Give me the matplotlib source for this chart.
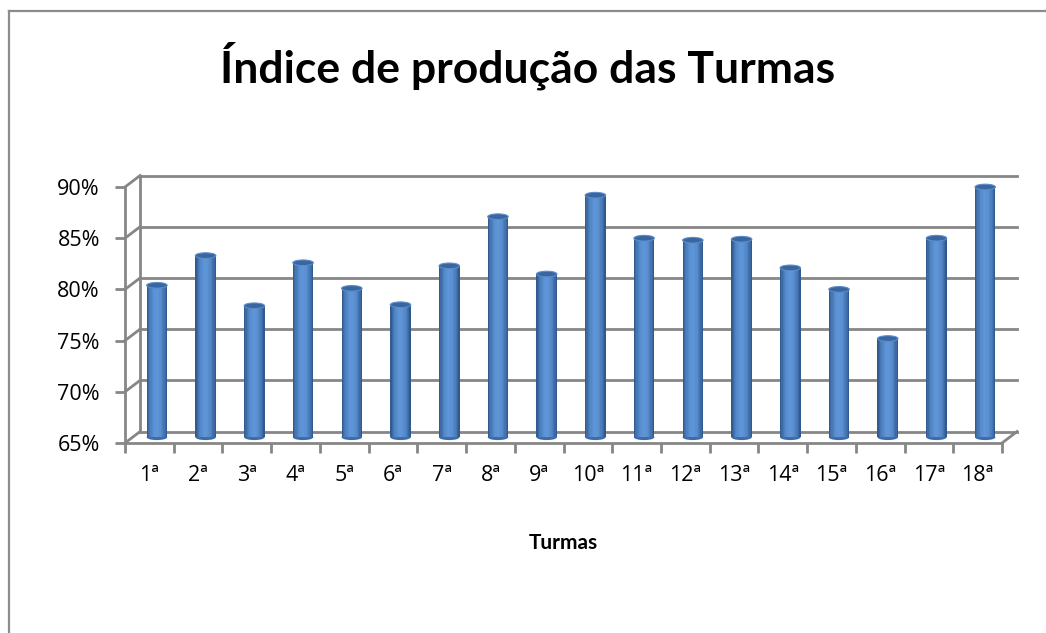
import matplotlib.pyplot as plt
import matplotlib.colors as mcolors
from matplotlib.patches import Ellipse
from matplotlib.lines import Line2D
import numpy as np

plt.rcParams['font.family'] = ['Lato', 'DejaVu Sans']

TURMAS = ['1ª', '2ª', '3ª', '4ª', '5ª', '6ª', '7ª', '8ª', '9ª', '10ª',
          '11ª', '12ª', '13ª', '14ª', '15ª', '16ª', '17ª', '18ª']
INDICE = [80.4, 83.3, 78.4, 82.6, 80.1, 78.5, 82.3, 87.1, 81.5, 89.2,
          85.0, 84.8, 84.9, 82.1, 80.0, 75.2, 85.0, 90.0]
Y_TICKS = [65, 70, 75, 80, 85, 90]

W, H = 1046, 633
GRID = '#868686'
DARK = np.array(mcolors.to_rgb('#2b5386'))
LIGHT = np.array(mcolors.to_rgb('#5e95d8'))
TICK_FONT = ['Open Sans', 'DejaVu Sans']

# depth offset of the back wall, in data units
DX = 0.31
DY = 1.12
BAR_W = 0.42
CAP_H = 0.55
N_SLICES = 16


def slice_color(t):
    # t in 0..1 across the cylinder, highlight a bit left of centre
    k = np.clip(np.sin(np.pi * t) ** 0.8 - 0.15 * (t - 0.4) ** 2, 0, 1)
    return tuple(DARK + (LIGHT - DARK) * k)


def draw_walls(ax):
    y0, y1 = Y_TICKS[0], Y_TICKS[-1]
    n = len(TURMAS)
    for v in Y_TICKS:
        ax.add_line(Line2D([DX, n + DX], [v + DY, v + DY], color=GRID,
                           lw=2, clip_on=False, zorder=1))
        ax.add_line(Line2D([0, DX], [v, v + DY], color=GRID,
                           lw=2, clip_on=False, zorder=1))
    ax.add_line(Line2D([DX, DX], [y0 + DY, y1 + DY], color=GRID,
                       lw=2, clip_on=False, zorder=1))
    ax.add_line(Line2D([n, n + DX], [y0, y0 + DY], color=GRID,
                       lw=2, clip_on=False, zorder=1))


def draw_cylinders(ax):
    base = Y_TICKS[0] + DY / 2
    centers = np.arange(len(TURMAS)) + 0.5 + DX / 2
    heights = np.array(INDICE) - base
    sw = BAR_W / N_SLICES
    for c, v in zip(centers, INDICE):
        ax.add_patch(Ellipse((c, base), BAR_W, CAP_H, facecolor='#3f6ca6',
                             edgecolor='none', zorder=3))
    for i in range(N_SLICES):
        t = (i + 0.5) / N_SLICES
        xs = centers - BAR_W / 2 + (i + 0.5) * sw
        ax.bar(xs, heights, width=sw * 1.05, bottom=base,
               color=slice_color(t), edgecolor='none', zorder=4)
    for c, v in zip(centers, INDICE):
        ax.add_patch(Ellipse((c, v), BAR_W, CAP_H, facecolor='#3a66a0',
                             edgecolor='#5a8ccc', lw=0.8, zorder=5,
                             clip_on=False))


def main():
    fig = plt.figure(figsize=(W / 100, H / 100), dpi=100)
    ax = fig.add_axes([125 / W, 190 / H, 877 / W, 256 / H])
    ax.set_xlim(0, len(TURMAS))
    ax.set_ylim(Y_TICKS[0], Y_TICKS[-1])

    draw_walls(ax)
    draw_cylinders(ax)

    for s in ['top', 'right']:
        ax.spines[s].set_visible(False)
    for s in ['left', 'bottom']:
        ax.spines[s].set_color(GRID)
        ax.spines[s].set_linewidth(2)
        ax.spines[s].set_zorder(6)

    ax.set_yticks(Y_TICKS)
    ax.set_yticklabels(['%d%%' % v for v in Y_TICKS])
    ax.tick_params(axis='y', length=7, width=2, color=GRID, pad=11,
                   labelsize=15.5)
    ax.set_xticks(np.arange(len(TURMAS)) + 0.5)
    ax.set_xticklabels(TURMAS)
    ax.set_xticks(np.arange(len(TURMAS) + 1), minor=True)
    ax.tick_params(axis='x', which='major', length=0, pad=16, labelsize=15.5)
    ax.tick_params(axis='x', which='minor', length=7, width=2, color=GRID)
    for lbl in ax.get_xticklabels() + ax.get_yticklabels():
        lbl.set_family(TICK_FONT)

    ax.set_xlabel('Turmas', fontsize=15, fontweight='bold', labelpad=34)
    fig.text(528 / W, 1 - 66 / H, 'Índice de produção das Turmas',
             ha='center', va='center', fontsize=32, fontweight='bold')

    # chart frame (left and top edges visible)
    fig.add_artist(Line2D([8.5 / W, 8.5 / W], [0, 1 - 10.5 / H],
                          transform=fig.transFigure, color='#8c8c8c', lw=1.6))
    fig.add_artist(Line2D([8.5 / W, 1], [1 - 10.5 / H, 1 - 10.5 / H],
                          transform=fig.transFigure, color='#8c8c8c', lw=1.6))

    fig.savefig('out.png', dpi=100)


main()
